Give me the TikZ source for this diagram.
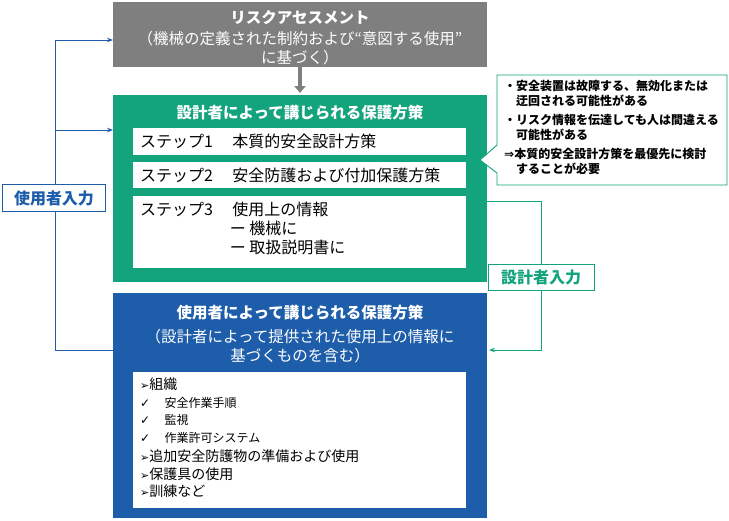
\documentclass[tikz,border=0pt]{standalone}
\usepackage{fontspec}
\setmainfont{Noto Sans CJK JP}
\newfontfamily\djv{DejaVu Sans}
\usetikzlibrary{arrows.meta}
\begin{document}
\begin{tikzpicture}[x=1pt,y=-1pt,
  wt/.style={text=white,font=\fontsize{15.5}{19}\selectfont\bfseries,align=center},
  wn/.style={text=white,font=\fontsize{15.5}{19.5}\selectfont,align=center},
  st/.style={font=\fontsize{16}{19}\selectfont,anchor=west,inner sep=0},
  inbox/.style={draw=#1,fill=white,line width=0.9pt}]
\definecolor{gr}{HTML}{7F7F7F}
\definecolor{gn}{HTML}{13A37D}
\definecolor{bl}{HTML}{1E5DAA}
\useasboundingbox (0,0) rectangle (729,520);
% gray
\fill[gr] (113,2) rectangle (487,67);
\node[wt] (ra) at (300,18) {リスクアセスメント};
\node[wn] (rat) at (300,48) {（機械の定義された制約および“意図する使用”\\に基づく）};
\coordinate (ga) at (300,67);
\coordinate (gb) at (300,93);
\draw[gr,line width=4pt,-{Triangle[length=7pt,width=11pt]}] (ga) -- (gb);
% green
\fill[gn] (113,95) rectangle (487,282);
\node[wt] (gt) at (300,113) {設計者によって講じられる保護方策};
\fill[white] (133,128) rectangle (466,155);
\fill[white] (133,162) rectangle (466,188);
\fill[white] (133,196) rectangle (466,268);
\node[st] (s1) at (140,141.5) {ステップ1\hspace{1.2em}本質的安全設計方策};
\node[st] (s2) at (140,175) {ステップ2\hspace{1.2em}安全防護および付加保護方策};
\node[st,anchor=north west,align=left] (s3) at (140,202) {ステップ3\hspace{1.2em}使用上の情報\\\hspace{5.6em}ー 機械に\\\hspace{5.6em}ー 取扱説明書に};
% callout
\draw[gn,fill=white,line width=0.9pt] (497,75) -- (727,75) -- (727,185) -- (497,185) -- (497,173) -- (480,160) -- (497,145) -- cycle;
\node[anchor=north west,align=left,inner sep=0,font=\fontsize{12}{15}\selectfont\bfseries] (co) at (504,80)
 {・安全装置は故障する、無効化または\\\hspace{1em}迂回される可能性がある\\[4pt]・リスク情報を伝達しても人は間違える\\\hspace{1em}可能性がある\\[4pt]{\djv ⇒}本質的安全設計方策を最優先に検討\\\hspace{1em}することが必要};
% blue
\fill[bl] (113,293) rectangle (487,518);
\node[wt] (bt) at (300,313) {使用者によって講じられる保護方策};
\node[wn] (btt) at (300,346) {（設計者によって提供された使用上の情報に\\基づくものを含む）};
\fill[white] (133,372) rectangle (466,508);
\node[anchor=north west,align=left,inner sep=0,font=\fontsize{14}{17.5}\selectfont] (lst) at (140,378)
 {{\djv\fontsize{11}{11}\selectfont ➢}組織\\
 {\fontsize{12}{16}\selectfont{\djv ✓}\hspace{1.2em}安全作業手順}\\
 {\fontsize{12}{16}\selectfont{\djv ✓}\hspace{1.2em}監視}\\
 {\fontsize{12}{16}\selectfont{\djv ✓}\hspace{1.2em}作業許可システム}\\[2pt]
 {\djv\fontsize{11}{11}\selectfont ➢}追加安全防護物の準備および使用\\
 {\djv\fontsize{11}{11}\selectfont ➢}保護具の使用\\
 {\djv\fontsize{11}{11}\selectfont ➢}訓練など};
% user input
\coordinate (u1) at (55,40); \coordinate (u1e) at (113,40);
\coordinate (u2) at (55,130); \coordinate (u2e) at (113,130);
\coordinate (u3) at (55,350); \coordinate (u3e) at (113,350);
\draw[bl,line width=0.9pt] (u1) -- (u3) -- (u3e);
\draw[bl,line width=0.9pt,-{Stealth[length=6pt]}] (u1) -- (u1e);
\draw[bl,line width=0.9pt,-{Stealth[length=6pt]}] (u2) -- (u2e);
\node[inbox=bl,text=bl,font=\fontsize{16}{18}\selectfont\bfseries,minimum width=103pt,minimum height=27pt,inner sep=0] (ui) at (54,198) {使用者入力};
% designer input
\coordinate (d1) at (487,201); \coordinate (d2) at (541,201);
\coordinate (d3) at (541,350); \coordinate (d4) at (489,350);
\draw[gn,line width=0.9pt,-{Stealth[length=6pt]}] (d1) -- (d2) -- (d3) -- (d4);
\node[inbox=gn,text=gn,font=\fontsize{16}{18}\selectfont\bfseries,minimum width=106pt,minimum height=26pt,inner sep=0] (di) at (541,277) {設計者入力};
\end{tikzpicture}
\end{document}
